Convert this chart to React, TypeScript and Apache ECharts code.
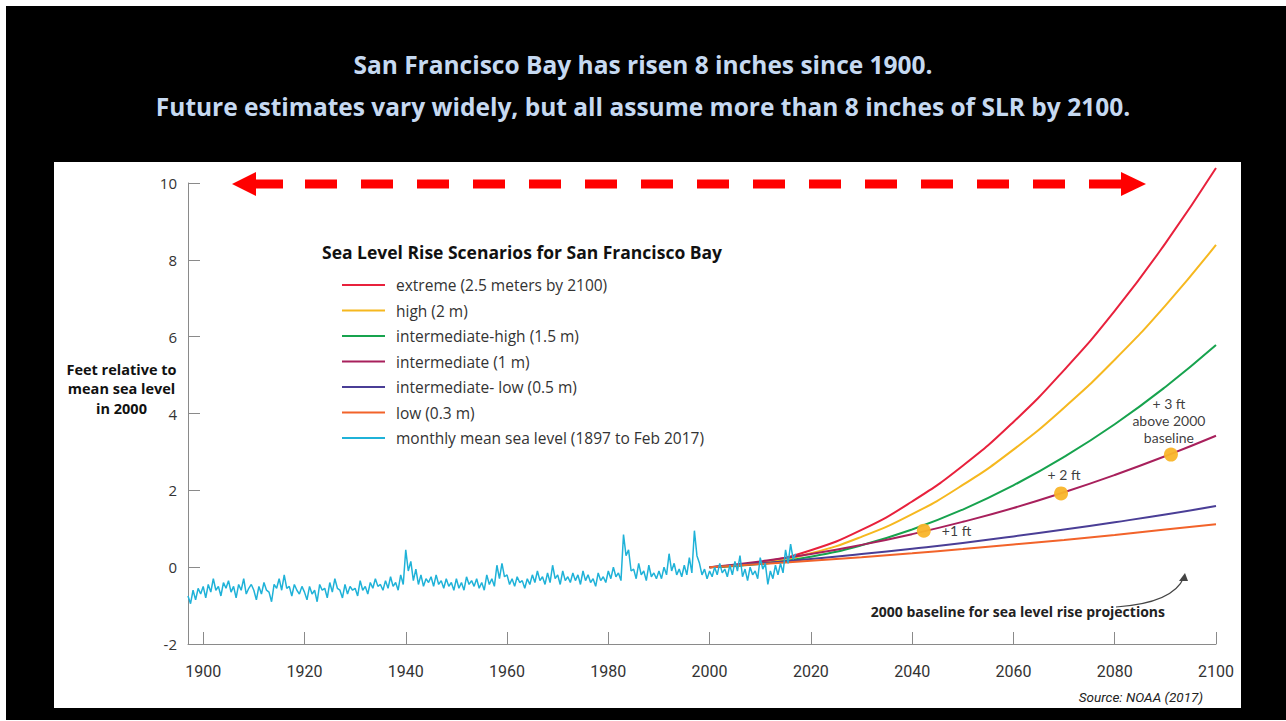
import React, { useEffect, useRef } from "react";
import * as echarts from "echarts";

const TITLE_LINES = [
  "San Francisco Bay has risen 8 inches since 1900.",
  "Future estimates vary widely, but all assume more than 8 inches of SLR by 2100.",
];
const LEGEND_TITLE = "Sea Level Rise Scenarios for San Francisco Bay";
const Y_NAME_LINES = ["Feet relative to", "mean sea level", "in 2000"];
const BASELINE_NOTE = "2000 baseline for sea level rise projections";
const SOURCE = "Source: NOAA (2017)";

const X_TICKS = [1900, 1920, 1940, 1960, 1980, 2000, 2020, 2040, 2060, 2080, 2100];

const SCENARIO_NAMES = [
  "extreme (2.5 meters by 2100)",
  "high (2 m)",
  "intermediate-high (1.5 m)",
  "intermediate (1 m)",
  "intermediate- low (0.5 m)",
  "low (0.3 m)",
];
const MONTHLY_NAME = "monthly mean sea level (1897 to Feb 2017)";
const SCENARIO_COLORS = ["#e8213c", "#f6b81f", "#17a34e", "#a8205c", "#4a3e96", "#f2632a"];
const MONTHLY_COLOR = "#1fb2d8";

const PROJ_YEARS = [2000, 2010, 2020, 2030, 2040, 2050, 2060, 2070, 2080, 2090, 2100];
const EXTREME = [0, 0.12, 0.44, 0.97, 1.71, 2.64, 3.78, 5.13, 6.67, 8.43, 10.39];
const HIGH = [0, 0.1, 0.36, 0.79, 1.38, 2.14, 3.06, 4.15, 5.4, 6.81, 8.39];
const INT_HIGH = [0, 0.08, 0.27, 0.57, 0.98, 1.5, 2.13, 2.87, 3.72, 4.69, 5.78];
const INTERMEDIATE = [0, 0.15, 0.34, 0.58, 0.86, 1.18, 1.54, 1.95, 2.4, 2.89, 3.42];
const INT_LOW = [0, 0.1, 0.21, 0.34, 0.48, 0.63, 0.8, 0.98, 1.17, 1.37, 1.59];
const LOW = [0, 0.08, 0.17, 0.26, 0.36, 0.47, 0.59, 0.71, 0.84, 0.98, 1.12];
const SCENARIOS = [EXTREME, HIGH, INT_HIGH, INTERMEDIATE, INT_LOW, LOW];

// semi-annual readings of the monthly mean sea level trace, 1897.0 .. 2017.0
const MONTHLY_START = 1897;
const MONTHLY_STEP = 0.5;
const MONTHLY = [
  -0.75, -0.95, -0.6, -0.85, -0.55, -0.7,
  -0.5, -0.8, -0.45, -0.65, -0.3, -0.6, -0.5, -0.75, -0.4, -0.55,
  -0.35, -0.65, -0.5, -0.8, -0.45, -0.6, -0.3, -0.7, -0.55, -0.45,
  -0.6, -0.85, -0.5, -0.7, -0.4, -0.6, -0.65, -0.9, -0.45, -0.55,
  -0.3, -0.6, -0.2, -0.55, -0.5, -0.75, -0.45, -0.6, -0.7, -0.5,
  -0.65, -0.85, -0.5, -0.7, -0.6, -0.9, -0.45, -0.6, -0.55, -0.8,
  -0.4, -0.65, -0.3, -0.55, -0.6, -0.8, -0.45, -0.7, -0.5, -0.6,
  -0.55, -0.75, -0.35, -0.6, -0.5, -0.7, -0.4, -0.55, -0.3, -0.5,
  -0.45, -0.6, -0.35, -0.55, -0.25, -0.5, -0.4, -0.6, -0.2, -0.45,
  0.45, -0.1, 0.15, -0.35, -0.05, -0.45, -0.2, -0.5, -0.3, -0.4,
  -0.25, -0.5, -0.2, -0.45, -0.35, -0.55, -0.3, -0.5, -0.4, -0.6,
  -0.3, -0.55, -0.4, -0.6, -0.25, -0.45, -0.35, -0.5, -0.3, -0.55,
  -0.4, -0.6, -0.2, -0.45, -0.3, -0.5, 0.05, -0.3, 0.1, -0.25,
  -0.2, -0.45, -0.3, -0.5, -0.25, -0.4, -0.35, -0.55, -0.3, -0.45,
  -0.2, -0.4, -0.1, -0.35, -0.25, -0.45, -0.15, -0.4, 0.05, -0.3,
  -0.2, -0.45, -0.1, -0.35, -0.25, -0.4, -0.15, -0.35, -0.2, -0.45,
  -0.1, -0.35, -0.2, -0.4, -0.3, -0.5, -0.15, -0.35, -0.25, -0.4,
  -0.1, -0.3, 0.0, -0.25, -0.15, -0.35, 0.85, 0.3, 0.45, -0.1,
  -0.05, -0.3, 0.1, -0.2, -0.1, -0.35, 0.05, -0.25, -0.15, -0.3,
  -0.1, -0.3, 0.0, -0.2, 0.35, -0.1, 0.1, -0.2, -0.05, -0.25,
  0.05, -0.2, 0.25, -0.15, 0.95, 0.3, 0.1, -0.2, -0.05, -0.3,
  -0.1, -0.25, 0.0, -0.2, 0.1, -0.15, -0.05, -0.25, 0.05, -0.2,
  0.15, -0.1, 0.3, -0.25, -0.05, -0.35, 0.0, -0.2, -0.1, -0.3,
  0.25, -0.05, 0.1, -0.45, -0.1, -0.3, 0.05, -0.2, 0.1, -0.15,
  0.45, 0.1, 0.6, 0.2, 0.35,
];

// milestone dots on the intermediate scenario
const MILESTONE_YEARS = [2042.3, 2069.4, 2091.1];
const MILESTONE_VALUES = [0.95, 1.92, 2.93];
const MILESTONE_LABELS = ["+1 ft", "+ 2 ft", "+ 3 ft\nabove 2000\nbaseline"];

export default function App() {
  const ref = useRef<HTMLDivElement>(null);

  useEffect(() => {
    if (!ref.current) return;
    const chart = echarts.init(ref.current, undefined, { renderer: "svg" });

    const scenarioSeries = SCENARIO_NAMES.map((name, i) => ({
      name,
      type: "line",
      data: PROJ_YEARS.map((y, j) => [y, SCENARIOS[i][j]]),
      smooth: true,
      symbol: "none",
      clip: false,
      lineStyle: { color: SCENARIO_COLORS[i], width: 2 },
      itemStyle: { color: SCENARIO_COLORS[i] },
      z: 3,
    }));

    const monthlySeries = {
      name: MONTHLY_NAME,
      type: "line",
      data: MONTHLY.map((v, i) => [MONTHLY_START + i * MONTHLY_STEP, v]),
      symbol: "none",
      lineStyle: { color: MONTHLY_COLOR, width: 1.5 },
      itemStyle: { color: MONTHLY_COLOR },
      z: 4,
    };

    const labelPositions = [
      { position: "right", distance: 11, align: "left" },
      { position: "top", distance: 3, offset: [3, 0] },
      { position: "top", distance: 2, offset: [-2, 0], lineHeight: 17 },
    ];

    const milestoneSeries = {
      name: "milestones",
      type: "scatter",
      symbolSize: 14,
      itemStyle: { color: "#f9b52a", opacity: 0.95 },
      z: 6,
      data: MILESTONE_YEARS.map((y, i) => ({
        value: [y, MILESTONE_VALUES[i]],
        label: {
          show: true,
          formatter: MILESTONE_LABELS[i],
          color: "#333",
          fontFamily: "Lato",
          fontSize: 14,
          lineHeight: 17,
          align: "center",
          ...labelPositions[i],
        },
      })),
    };

    // red dashed double arrow
    const arrowY = 184;
    const arrowParts: any[] = [
      { type: "polygon", shape: { points: [[232, arrowY], [256, arrowY - 12], [256, arrowY + 12]] }, style: { fill: "#ff0000" } },
      { type: "rect", shape: { x: 254, y: arrowY - 4.5, width: 29, height: 9 }, style: { fill: "#ff0000" } },
      { type: "rect", shape: { x: 1089, y: arrowY - 4.5, width: 34, height: 9 }, style: { fill: "#ff0000" } },
      { type: "polygon", shape: { points: [[1146, arrowY], [1121, arrowY - 12], [1121, arrowY + 12]] }, style: { fill: "#ff0000" } },
    ];
    for (let k = 0; k < 14; k++) {
      arrowParts.push({
        type: "rect",
        shape: { x: 305 + k * 56, y: arrowY - 4.5, width: 32, height: 9 },
        style: { fill: "#ff0000" },
      });
    }

    const option: any = {
      animation: false,
      grid: { left: 188, right: 70, top: 183, bottom: 77, containLabel: false },
      xAxis: {
        type: "value",
        min: 1897,
        max: 2100,
        axisLine: { show: true, onZero: false, lineStyle: { color: "#8a8a8a", width: 1 } },
        axisTick: { show: true, inside: true, length: 12, customValues: X_TICKS, lineStyle: { color: "#8a8a8a" } },
        axisLabel: {
          customValues: X_TICKS,
          margin: 19,
          fontSize: 16,
          color: "#333",
          fontFamily: "Roboto",
          formatter: (v: number) => String(v),
        },
        splitLine: { show: false },
      },
      yAxis: {
        type: "value",
        min: -2,
        max: 10,
        interval: 2,
        axisLine: { show: true, onZero: false, lineStyle: { color: "#8a8a8a", width: 1 } },
        axisTick: { show: true, inside: true, length: 12, lineStyle: { color: "#8a8a8a" } },
        axisLabel: { margin: 11, fontSize: 15, color: "#333", fontFamily: "Open Sans" },
        splitLine: { show: false },
      },
      legend: {
        orient: "vertical",
        left: 342,
        top: 277,
        padding: 0,
        icon: "rect",
        itemWidth: 43,
        itemHeight: 2,
        itemGap: 9.5,
        data: [...SCENARIO_NAMES, MONTHLY_NAME],
        textStyle: { fontSize: 15.5, color: "#333", fontFamily: "Open Sans", lineHeight: 16, padding: [0, 0, 0, 6] },
        selectedMode: false,
      },
      series: [...scenarioSeries, monthlySeries, milestoneSeries],
      graphic: [
        ...TITLE_LINES.map((t, i) => ({
          type: "text",
          x: 643,
          y: i === 0 ? 64 : 106,
          style: { text: t, fill: "#c6d9f1", font: "bold 24.5px 'Open Sans'", textAlign: "center", textVerticalAlign: "middle" },
        })),
        {
          type: "text",
          x: 322,
          y: 252,
          style: { text: LEGEND_TITLE, fill: "#111", font: "bold 17.5px 'Open Sans'", textVerticalAlign: "middle" },
        },
        ...Y_NAME_LINES.map((t, i) => ({
          type: "text",
          x: 121.5,
          y: 369 + i * 19.5,
          style: { text: t, fill: "#111", font: "bold 14.5px 'Open Sans'", textAlign: "center", textVerticalAlign: "middle" },
        })),
        {
          type: "text",
          x: 1165,
          y: 611,
          style: { text: BASELINE_NOTE, fill: "#222", font: "bold 14px 'Open Sans'", textAlign: "right", textVerticalAlign: "middle" },
        },
        {
          type: "bezierCurve",
          shape: { x1: 1116, y1: 607, x2: 1184, y2: 577, cpx1: 1160, cpy1: 604, cpx2: 1178, cpy2: 592 },
          style: { stroke: "#444", lineWidth: 1.2, fill: null },
        },
        {
          type: "polygon",
          shape: { points: [[1185, 573], [1179, 581], [1188, 581]] },
          style: { fill: "#444" },
        },
        {
          type: "text",
          x: 1203,
          y: 697,
          style: { text: SOURCE, fill: "#222", font: "italic 13.5px Roboto", textAlign: "right", textVerticalAlign: "middle" },
        },
        ...arrowParts,
      ],
    };

    chart.setOption(option);
    return () => chart.dispose();
  }, []);

  return (
    <div style={{ position: "fixed", left: 0, top: 0, width: 1286, height: 721, background: "#fff", overflow: "hidden" }}>
      <div style={{ position: "absolute", left: 6, top: 6, width: 1280, height: 714, background: "#000" }} />
      <div style={{ position: "absolute", left: 54, top: 162, width: 1187, height: 546, background: "#fff" }} />
      <div ref={ref} style={{ position: "absolute", left: 0, top: 0, width: 1286, height: 721 }} />
    </div>
  );
}
